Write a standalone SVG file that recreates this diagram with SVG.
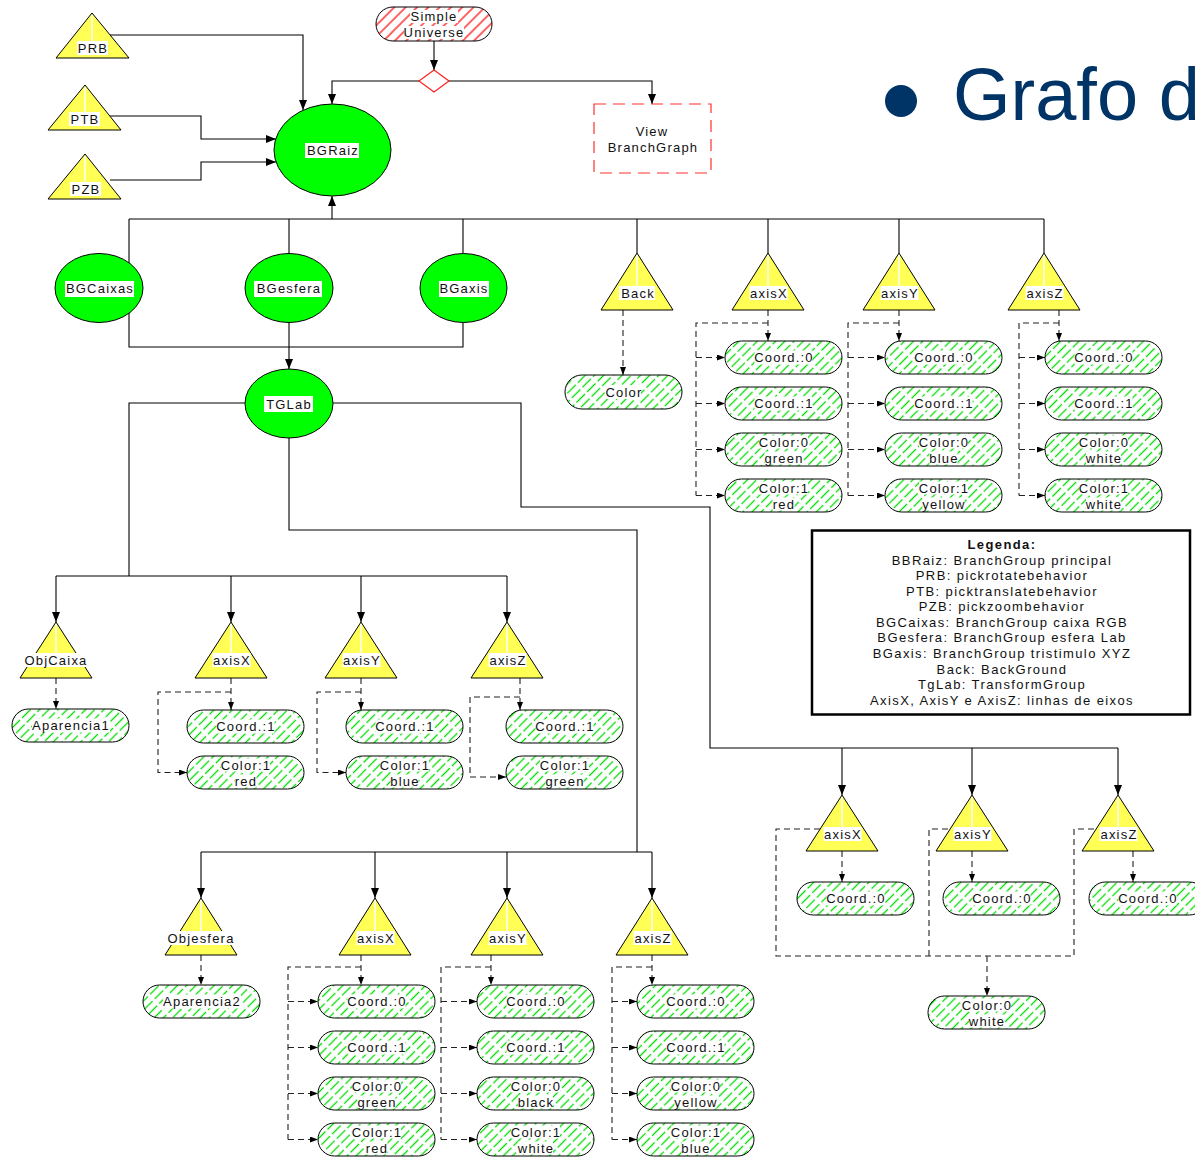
<svg xmlns="http://www.w3.org/2000/svg" width="1195" height="1157" viewBox="0 0 1195 1157">
<style>
.t{font-family:"Liberation Sans",Arial,sans-serif;font-size:13px;letter-spacing:1.2px;fill:#111;text-anchor:middle}
.lg{font-family:"Liberation Sans",Arial,sans-serif;font-size:13px;letter-spacing:1.4px;fill:#111;text-anchor:middle}
.c{fill:none;stroke:#000;stroke-width:1.1}
.d{fill:none;stroke:#222;stroke-width:1.1;stroke-dasharray:6 4}
.tri{fill:#ffff55;stroke:#000;stroke-width:1}
.ell{fill:#00ff00;stroke:#000;stroke-width:1}
.pill{fill:url(#hg);stroke:#000;stroke-width:1}
.bg{fill:#fff}
.wl{stroke:#fff;stroke-width:1.5}
</style>
<defs>
<pattern id="hg" patternUnits="userSpaceOnUse" width="6.5" height="15" patternTransform="rotate(45)"><rect width="6.5" height="15" fill="#fff"/><line x1="3.25" y1="0" x2="3.25" y2="15" stroke="#00dd00" stroke-width="1.3" stroke-dasharray="12 3"/></pattern>
<pattern id="hr" patternUnits="userSpaceOnUse" width="8" height="10" patternTransform="rotate(45)"><rect width="8" height="10" fill="#fff"/><line x1="4" y1="0" x2="4" y2="10" stroke="#ff2020" stroke-width="1.4"/></pattern>
<marker id="ar" markerUnits="userSpaceOnUse" markerWidth="10" markerHeight="8" refX="10" refY="4" orient="auto" viewBox="0 0 10 8"><path d="M0,0L10,4L0,8z" fill="#000"/></marker>
<marker id="as" markerUnits="userSpaceOnUse" markerWidth="8" markerHeight="6" refX="8" refY="3" orient="auto" viewBox="0 0 8 6"><path d="M0,0L8,3L0,6z" fill="#000"/></marker>
</defs>
<rect width="1195" height="1157" fill="#fff"/>

<g id="title">
<circle cx="901" cy="101" r="16" fill="#003366"/>
<text x="953" y="120" style="font-family:'Liberation Sans',Arial,sans-serif;font-size:74px;fill:#003366">Grafo d</text>
</g>

<g id="connectors">
<path class="c" d="M110,35H303V110" marker-end="url(#ar)"/>
<path class="c" d="M110,116H201V139H276" marker-end="url(#ar)"/>
<path class="c" d="M110,180H201V162H276" marker-end="url(#ar)"/>
<path class="c" d="M434,41V70" marker-end="url(#ar)"/>
<path class="c" d="M420,81H332V104" marker-end="url(#ar)"/>
<path class="c" d="M448,81H652V104" marker-end="url(#ar)"/>
<path class="c" d="M129,219H1044"/>
<path class="c" d="M332,219V196" marker-end="url(#ar)"/>
<path class="c" d="M129,219V347H463V219"/>
<path class="c" d="M289,219V369" marker-end="url(#ar)"/>
<path class="c" d="M637,219V253M768,219V253M899,219V253M1044,219V253"/>
<path class="c" d="M245,403H129V576M56,576H507"/>
<path class="c" d="M56,576V622" marker-end="url(#ar)"/>
<path class="c" d="M231,576V622" marker-end="url(#ar)"/>
<path class="c" d="M361,576V622" marker-end="url(#ar)"/>
<path class="c" d="M507,576V622" marker-end="url(#ar)"/>
<path class="c" d="M289,437V530H637V852M201,852H652"/>
<path class="c" d="M201,852V898" marker-end="url(#ar)"/>
<path class="c" d="M375,852V898" marker-end="url(#ar)"/>
<path class="c" d="M507,852V898" marker-end="url(#ar)"/>
<path class="c" d="M652,852V898" marker-end="url(#ar)"/>
<path class="c" d="M333,403H521V507H710V748H1118"/>
<path class="c" d="M842,748V795" marker-end="url(#ar)"/>
<path class="c" d="M972,748V795" marker-end="url(#ar)"/>
<path class="c" d="M1118,748V795" marker-end="url(#ar)"/>

<path class="d" d="M623,310V375" marker-end="url(#as)"/>
<path class="d" d="M768,310V341" marker-end="url(#as)"/>
<path class="d" d="M768,323H696V495.5"/>
<path class="d" d="M696,357.5H725" marker-end="url(#as)"/>
<path class="d" d="M696,403.5H725" marker-end="url(#as)"/>
<path class="d" d="M696,449.5H725" marker-end="url(#as)"/>
<path class="d" d="M696,495.5H725" marker-end="url(#as)"/>
<path class="d" d="M899,310V341" marker-end="url(#as)"/>
<path class="d" d="M899,323H848V495.5"/>
<path class="d" d="M848,357.5H885" marker-end="url(#as)"/>
<path class="d" d="M848,403.5H885" marker-end="url(#as)"/>
<path class="d" d="M848,449.5H885" marker-end="url(#as)"/>
<path class="d" d="M848,495.5H885" marker-end="url(#as)"/>
<path class="d" d="M1059,310V341" marker-end="url(#as)"/>
<path class="d" d="M1059,323H1019V495.5"/>
<path class="d" d="M1019,357.5H1045" marker-end="url(#as)"/>
<path class="d" d="M1019,403.5H1045" marker-end="url(#as)"/>
<path class="d" d="M1019,449.5H1045" marker-end="url(#as)"/>
<path class="d" d="M1019,495.5H1045" marker-end="url(#as)"/>
<path class="d" d="M56,678V709" marker-end="url(#as)"/>
<path class="d" d="M231,678V710" marker-end="url(#as)"/>
<path class="d" d="M231,692H158V772.5H187" marker-end="url(#as)"/>
<path class="d" d="M361,678V710" marker-end="url(#as)"/>
<path class="d" d="M361,692H317V772.5H346" marker-end="url(#as)"/>
<path class="d" d="M520,678V710" marker-end="url(#as)"/>
<path class="d" d="M520,697H470V777H506" marker-end="url(#as)"/>
<path class="d" d="M201,955V985" marker-end="url(#as)"/>
<path class="d" d="M361,955V985" marker-end="url(#as)"/>
<path class="d" d="M361,967H288V1139.5"/>
<path class="d" d="M288,1001.5H318" marker-end="url(#as)"/>
<path class="d" d="M288,1047.5H318" marker-end="url(#as)"/>
<path class="d" d="M288,1093.5H318" marker-end="url(#as)"/>
<path class="d" d="M288,1139.5H318" marker-end="url(#as)"/>
<path class="d" d="M491,955V985" marker-end="url(#as)"/>
<path class="d" d="M491,967H441V1139.5"/>
<path class="d" d="M441,1001.5H477" marker-end="url(#as)"/>
<path class="d" d="M441,1047.5H477" marker-end="url(#as)"/>
<path class="d" d="M441,1093.5H477" marker-end="url(#as)"/>
<path class="d" d="M441,1139.5H477" marker-end="url(#as)"/>
<path class="d" d="M652,955V985" marker-end="url(#as)"/>
<path class="d" d="M652,967H612V1139.5"/>
<path class="d" d="M612,1001.5H637" marker-end="url(#as)"/>
<path class="d" d="M612,1047.5H637" marker-end="url(#as)"/>
<path class="d" d="M612,1093.5H637" marker-end="url(#as)"/>
<path class="d" d="M612,1139.5H637" marker-end="url(#as)"/>
<path class="d" d="M842,851V882" marker-end="url(#as)"/>
<path class="d" d="M972,851V882" marker-end="url(#as)"/>
<path class="d" d="M1133,851V882" marker-end="url(#as)"/>
<path class="d" d="M820,829H776V956H1074V829H1096M929,956V829H950"/>
<path class="d" d="M987,956V996" marker-end="url(#as)"/>
</g>

<g id="PRB"><polygon class="tri" points="92,13 56,58 129,58"/><line class="wl" x1="92" y1="15" x2="92" y2="41"/><rect class="bg" x="77" y="41" width="31" height="14"/><text class="t" x="93" y="52.5">PRB</text></g>
<g id="PTB"><polygon class="tri" points="85,85 48,130 121,130"/><line class="wl" x1="85" y1="87" x2="85" y2="112"/><rect class="bg" x="69" y="112" width="31" height="14"/><text class="t" x="85" y="123.5">PTB</text></g>
<g id="PZB"><polygon class="tri" points="85,154 48,199 121,199"/><line class="wl" x1="85" y1="156" x2="85" y2="182"/><rect class="bg" x="70" y="182" width="31" height="14"/><text class="t" x="86" y="193.5">PZB</text></g>
<g id="BGRaiz"><ellipse class="ell" cx="332.5" cy="150" rx="58.5" ry="46"/><rect class="bg" x="305" y="143" width="54" height="15"/><text class="t" x="333" y="155">BGRaiz</text></g>
<g id="SimpleUniverse"><rect x="376" y="7" width="116" height="34" rx="17" fill="url(#hr)" stroke="#000" stroke-width="1"/><rect class="bg" x="410" y="10" width="48" height="13"/><rect class="bg" x="404" y="26" width="60" height="13"/><text class="t" x="434" y="20.7">Simple</text><text class="t" x="434" y="36.7">Universe</text></g>
<g id="diamond"><polygon points="434,70 449,81 434,92 419,81" fill="#fff" stroke="#ff2020" stroke-width="1.2"/></g>
<g id="ViewBranchGraph"><rect x="594" y="104" width="117" height="69" fill="#fff" stroke="#ff3030" stroke-width="1.2" stroke-dasharray="12 7"/><text class="t" x="652" y="135.5">View</text><text class="t" x="653" y="151.5">BranchGraph</text></g>

<g id="BGCaixas"><ellipse class="ell" cx="99" cy="288" rx="44" ry="34.5"/><rect class="bg" x="65" y="281" width="69" height="16"/><text class="t" x="100" y="293">BGCaixas</text></g>
<g id="BGesfera"><ellipse class="ell" cx="289" cy="288" rx="44" ry="34.5"/><rect class="bg" x="254" y="281" width="68" height="16"/><text class="t" x="289" y="293">BGesfera</text></g>
<g id="BGaxis"><ellipse class="ell" cx="463.5" cy="288" rx="43.5" ry="34.5"/><rect class="bg" x="439" y="281" width="50" height="16"/><text class="t" x="464" y="293">BGaxis</text></g>
<g id="TGLab"><ellipse class="ell" cx="289" cy="403.5" rx="44" ry="34.5"/><rect class="bg" x="264" y="396" width="49" height="16"/><text class="t" x="289" y="408.5">TGLab</text></g>

<g id="Back"><polygon class="tri" points="637,253 601,310 673,310"/><line class="wl" x1="637" y1="255" x2="637" y2="286"/><rect class="bg" x="619" y="286" width="36" height="14"/><text class="t" x="638" y="297.5">Back</text></g>
<g id="ColorBack"><rect class="pill" x="565" y="375" width="117" height="34" rx="17"/><rect class="bg" x="605" y="385" width="36" height="14"/><text class="t" x="624" y="396.7">Color</text></g>

<g id="axisX1"><polygon class="tri" points="768,253 732,310 804,310"/><line class="wl" x1="768" y1="255" x2="768" y2="286"/><rect class="bg" x="749.5" y="286" width="38" height="14"/><text class="t" x="769" y="297.5">axisX</text></g>
<g id="axisY1"><polygon class="tri" points="899,253 863,310 935,310"/><line class="wl" x1="899" y1="255" x2="899" y2="286"/><rect class="bg" x="880.5" y="286" width="38" height="14"/><text class="t" x="900" y="297.5">axisY</text></g>
<g id="axisZ1"><polygon class="tri" points="1044,253 1008,310 1080,310"/><line class="wl" x1="1044" y1="255" x2="1044" y2="286"/><rect class="bg" x="1025.5" y="286" width="38" height="14"/><text class="t" x="1045" y="297.5">axisZ</text></g>

<g id="X1c0"><rect class="pill" x="725" y="341" width="117" height="33" rx="16.5"/><rect class="bg" x="754.5" y="350.5" width="58" height="14"/><text class="t" x="784" y="362.2">Coord.:0</text></g>
<g id="X1c1"><rect class="pill" x="725" y="387" width="117" height="33" rx="16.5"/><rect class="bg" x="754.5" y="396.5" width="58" height="14"/><text class="t" x="784" y="408.2">Coord.:1</text></g>
<g id="X1k0"><rect class="pill" x="725" y="433" width="117" height="33" rx="16.5"/><rect class="bg" x="759" y="435.5" width="49" height="13"/><rect class="bg" x="764.5" y="451.5" width="38" height="13"/><text class="t" x="784" y="446.7">Color:0</text><text class="t" x="784" y="462.7">green</text></g>
<g id="X1k1"><rect class="pill" x="725" y="479" width="117" height="33" rx="16.5"/><rect class="bg" x="759" y="481.5" width="49" height="13"/><rect class="bg" x="772.5" y="497.5" width="22" height="13"/><text class="t" x="784" y="492.7">Color:1</text><text class="t" x="784" y="508.7">red</text></g>

<g id="Y1c0"><rect class="pill" x="885" y="341" width="117" height="33" rx="16.5"/><rect class="bg" x="914.5" y="350.5" width="58" height="14"/><text class="t" x="944" y="362.2">Coord.:0</text></g>
<g id="Y1c1"><rect class="pill" x="885" y="387" width="117" height="33" rx="16.5"/><rect class="bg" x="914.5" y="396.5" width="58" height="14"/><text class="t" x="944" y="408.2">Coord.:1</text></g>
<g id="Y1k0"><rect class="pill" x="885" y="433" width="117" height="33" rx="16.5"/><rect class="bg" x="919" y="435.5" width="49" height="13"/><rect class="bg" x="929.5" y="451.5" width="28" height="13"/><text class="t" x="944" y="446.7">Color:0</text><text class="t" x="944" y="462.7">blue</text></g>
<g id="Y1k1"><rect class="pill" x="885" y="479" width="117" height="33" rx="16.5"/><rect class="bg" x="919" y="481.5" width="49" height="13"/><rect class="bg" x="922.5" y="497.5" width="42" height="13"/><text class="t" x="944" y="492.7">Color:1</text><text class="t" x="944" y="508.7">yellow</text></g>

<g id="Z1c0"><rect class="pill" x="1045" y="341" width="117" height="33" rx="16.5"/><rect class="bg" x="1074.5" y="350.5" width="58" height="14"/><text class="t" x="1104" y="362.2">Coord.:0</text></g>
<g id="Z1c1"><rect class="pill" x="1045" y="387" width="117" height="33" rx="16.5"/><rect class="bg" x="1074.5" y="396.5" width="58" height="14"/><text class="t" x="1104" y="408.2">Coord.:1</text></g>
<g id="Z1k0"><rect class="pill" x="1045" y="433" width="117" height="33" rx="16.5"/><rect class="bg" x="1079" y="435.5" width="49" height="13"/><rect class="bg" x="1086" y="451.5" width="35" height="13"/><text class="t" x="1104" y="446.7">Color:0</text><text class="t" x="1104" y="462.7">white</text></g>
<g id="Z1k1"><rect class="pill" x="1045" y="479" width="117" height="33" rx="16.5"/><rect class="bg" x="1079" y="481.5" width="49" height="13"/><rect class="bg" x="1086" y="497.5" width="35" height="13"/><text class="t" x="1104" y="492.7">Color:1</text><text class="t" x="1104" y="508.7">white</text></g>

<g id="legend">
<rect x="812" y="530.5" width="378" height="184" fill="#fff" stroke="#000" stroke-width="2.5"/>
<text class="lg" x="1002" y="549" style="font-weight:bold">Legenda:</text>
<text class="lg" x="1002" y="564.5">BBRaiz: BranchGroup principal</text>
<text class="lg" x="1002" y="580">PRB: pickrotatebehavior</text>
<text class="lg" x="1002" y="595.6">PTB: picktranslatebehavior</text>
<text class="lg" x="1002" y="611.2">PZB: pickzoombehavior</text>
<text class="lg" x="1002" y="626.8">BGCaixas: BranchGroup caixa RGB</text>
<text class="lg" x="1002" y="642.4">BGesfera: BranchGroup esfera Lab</text>
<text class="lg" x="1002" y="658">BGaxis: BranchGroup tristimulo XYZ</text>
<text class="lg" x="1002" y="673.6">Back: BackGround</text>
<text class="lg" x="1002" y="689.2">TgLab: TransformGroup</text>
<text class="lg" x="1002" y="704.8">AxisX, AxisY e AxisZ: linhas de eixos</text>
</g>

<g id="ObjCaixa"><polygon class="tri" points="56,622 20,678 92,678"/><line class="wl" x1="56" y1="624" x2="56" y2="653"/><rect class="bg" x="22" y="653" width="66" height="14"/><text class="t" x="56" y="664.5">ObjCaixa</text></g>
<g id="Aparencia1"><rect class="pill" x="12" y="709" width="117" height="33" rx="16.5"/><rect class="bg" x="32" y="718.5" width="78" height="14"/><text class="t" x="71" y="730.2">Aparencia1</text></g>
<g id="axisX2"><polygon class="tri" points="231,622 195,678 267,678"/><line class="wl" x1="231" y1="624" x2="231" y2="653"/><rect class="bg" x="212.5" y="653" width="38" height="14"/><text class="t" x="232" y="664.5">axisX</text></g>
<g id="axisY2"><polygon class="tri" points="361,622 325,678 397,678"/><line class="wl" x1="361" y1="624" x2="361" y2="653"/><rect class="bg" x="342.5" y="653" width="38" height="14"/><text class="t" x="362" y="664.5">axisY</text></g>
<g id="axisZ2"><polygon class="tri" points="507,622 471,678 543,678"/><line class="wl" x1="507" y1="624" x2="507" y2="653"/><rect class="bg" x="488.5" y="653" width="38" height="14"/><text class="t" x="508" y="664.5">axisZ</text></g>
<g id="X2c1"><rect class="pill" x="187" y="710" width="117" height="33" rx="16.5"/><rect class="bg" x="216.5" y="719.5" width="58" height="14"/><text class="t" x="246" y="731.2">Coord.:1</text></g>
<g id="X2k1"><rect class="pill" x="187" y="756" width="117" height="33" rx="16.5"/><rect class="bg" x="221" y="758.5" width="49" height="13"/><rect class="bg" x="234.5" y="774.5" width="22" height="13"/><text class="t" x="246" y="769.7">Color:1</text><text class="t" x="246" y="785.7">red</text></g>
<g id="Y2c1"><rect class="pill" x="346" y="710" width="117" height="33" rx="16.5"/><rect class="bg" x="375.5" y="719.5" width="58" height="14"/><text class="t" x="405" y="731.2">Coord.:1</text></g>
<g id="Y2k1"><rect class="pill" x="346" y="756" width="117" height="33" rx="16.5"/><rect class="bg" x="380" y="758.5" width="49" height="13"/><rect class="bg" x="390.5" y="774.5" width="28" height="13"/><text class="t" x="405" y="769.7">Color:1</text><text class="t" x="405" y="785.7">blue</text></g>
<g id="Z2c1"><rect class="pill" x="506" y="710" width="117" height="33" rx="16.5"/><rect class="bg" x="535.5" y="719.5" width="58" height="14"/><text class="t" x="565" y="731.2">Coord.:1</text></g>
<g id="Z2k1"><rect class="pill" x="506" y="756" width="117" height="33" rx="16.5"/><rect class="bg" x="540" y="758.5" width="49" height="13"/><rect class="bg" x="545.5" y="774.5" width="38" height="13"/><text class="t" x="565" y="769.7">Color:1</text><text class="t" x="565" y="785.7">green</text></g>

<g id="axisX3"><polygon class="tri" points="842,795 806,851 878,851"/><line class="wl" x1="842" y1="797" x2="842" y2="827"/><rect class="bg" x="823.5" y="827" width="38" height="14"/><text class="t" x="843" y="838.5">axisX</text></g>
<g id="axisY3"><polygon class="tri" points="972,795 936,851 1008,851"/><line class="wl" x1="972" y1="797" x2="972" y2="827"/><rect class="bg" x="953.5" y="827" width="38" height="14"/><text class="t" x="973" y="838.5">axisY</text></g>
<g id="axisZ3"><polygon class="tri" points="1118,795 1082,851 1154,851"/><line class="wl" x1="1118" y1="797" x2="1118" y2="827"/><rect class="bg" x="1099.5" y="827" width="38" height="14"/><text class="t" x="1119" y="838.5">axisZ</text></g>
<g id="X3c0"><rect class="pill" x="797" y="882" width="117" height="33" rx="16.5"/><rect class="bg" x="826.5" y="891.5" width="58" height="14"/><text class="t" x="856" y="903.2">Coord.:0</text></g>
<g id="Y3c0"><rect class="pill" x="943" y="882" width="117" height="33" rx="16.5"/><rect class="bg" x="972.5" y="891.5" width="58" height="14"/><text class="t" x="1002" y="903.2">Coord.:0</text></g>
<g id="Z3c0"><rect class="pill" x="1089" y="882" width="117" height="33" rx="16.5"/><rect class="bg" x="1118.5" y="891.5" width="58" height="14"/><text class="t" x="1148" y="903.2">Coord.:0</text></g>
<g id="W3k0"><rect class="pill" x="928" y="996" width="117" height="33" rx="16.5"/><rect class="bg" x="962" y="998.5" width="49" height="13"/><rect class="bg" x="969" y="1014.5" width="35" height="13"/><text class="t" x="987" y="1009.7">Color:0</text><text class="t" x="987" y="1025.7">white</text></g>

<g id="Objesfera"><polygon class="tri" points="201,898 165,955 237,955"/><line class="wl" x1="201" y1="900" x2="201" y2="931"/><rect class="bg" x="166" y="931" width="68" height="14"/><text class="t" x="201" y="942.5">Objesfera</text></g>
<g id="Aparencia2"><rect class="pill" x="143" y="985" width="117" height="33" rx="16.5"/><rect class="bg" x="163" y="994.5" width="78" height="14"/><text class="t" x="202" y="1006.2">Aparencia2</text></g>
<g id="axisX4"><polygon class="tri" points="375,898 339,955 411,955"/><line class="wl" x1="375" y1="900" x2="375" y2="931"/><rect class="bg" x="356.5" y="931" width="38" height="14"/><text class="t" x="376" y="942.5">axisX</text></g>
<g id="axisY4"><polygon class="tri" points="507,898 471,955 543,955"/><line class="wl" x1="507" y1="900" x2="507" y2="931"/><rect class="bg" x="488.5" y="931" width="38" height="14"/><text class="t" x="508" y="942.5">axisY</text></g>
<g id="axisZ4"><polygon class="tri" points="652,898 616,955 688,955"/><line class="wl" x1="652" y1="900" x2="652" y2="931"/><rect class="bg" x="633.5" y="931" width="38" height="14"/><text class="t" x="653" y="942.5">axisZ</text></g>

<g id="X4c0"><rect class="pill" x="318" y="985" width="117" height="33" rx="16.5"/><rect class="bg" x="347.5" y="994.5" width="58" height="14"/><text class="t" x="377" y="1006.2">Coord.:0</text></g>
<g id="X4c1"><rect class="pill" x="318" y="1031" width="117" height="33" rx="16.5"/><rect class="bg" x="347.5" y="1040.5" width="58" height="14"/><text class="t" x="377" y="1052.2">Coord.:1</text></g>
<g id="X4k0"><rect class="pill" x="318" y="1077" width="117" height="33" rx="16.5"/><rect class="bg" x="352" y="1079.5" width="49" height="13"/><rect class="bg" x="357.5" y="1095.5" width="38" height="13"/><text class="t" x="377" y="1090.7">Color:0</text><text class="t" x="377" y="1106.7">green</text></g>
<g id="X4k1"><rect class="pill" x="318" y="1123" width="117" height="33" rx="16.5"/><rect class="bg" x="352" y="1125.5" width="49" height="13"/><rect class="bg" x="365.5" y="1141.5" width="22" height="13"/><text class="t" x="377" y="1136.7">Color:1</text><text class="t" x="377" y="1152.7">red</text></g>

<g id="Y4c0"><rect class="pill" x="477" y="985" width="117" height="33" rx="16.5"/><rect class="bg" x="506.5" y="994.5" width="58" height="14"/><text class="t" x="536" y="1006.2">Coord.:0</text></g>
<g id="Y4c1"><rect class="pill" x="477" y="1031" width="117" height="33" rx="16.5"/><rect class="bg" x="506.5" y="1040.5" width="58" height="14"/><text class="t" x="536" y="1052.2">Coord.:1</text></g>
<g id="Y4k0"><rect class="pill" x="477" y="1077" width="117" height="33" rx="16.5"/><rect class="bg" x="511" y="1079.5" width="49" height="13"/><rect class="bg" x="518" y="1095.5" width="35" height="13"/><text class="t" x="536" y="1090.7">Color:0</text><text class="t" x="536" y="1106.7">black</text></g>
<g id="Y4k1"><rect class="pill" x="477" y="1123" width="117" height="33" rx="16.5"/><rect class="bg" x="511" y="1125.5" width="49" height="13"/><rect class="bg" x="518" y="1141.5" width="35" height="13"/><text class="t" x="536" y="1136.7">Color:1</text><text class="t" x="536" y="1152.7">white</text></g>

<g id="Z4c0"><rect class="pill" x="637" y="985" width="117" height="33" rx="16.5"/><rect class="bg" x="666.5" y="994.5" width="58" height="14"/><text class="t" x="696" y="1006.2">Coord.:0</text></g>
<g id="Z4c1"><rect class="pill" x="637" y="1031" width="117" height="33" rx="16.5"/><rect class="bg" x="666.5" y="1040.5" width="58" height="14"/><text class="t" x="696" y="1052.2">Coord.:1</text></g>
<g id="Z4k0"><rect class="pill" x="637" y="1077" width="117" height="33" rx="16.5"/><rect class="bg" x="671" y="1079.5" width="49" height="13"/><rect class="bg" x="674.5" y="1095.5" width="42" height="13"/><text class="t" x="696" y="1090.7">Color:0</text><text class="t" x="696" y="1106.7">yellow</text></g>
<g id="Z4k1"><rect class="pill" x="637" y="1123" width="117" height="33" rx="16.5"/><rect class="bg" x="671" y="1125.5" width="49" height="13"/><rect class="bg" x="681.5" y="1141.5" width="28" height="13"/><text class="t" x="696" y="1136.7">Color:1</text><text class="t" x="696" y="1152.7">blue</text></g>
</svg>
